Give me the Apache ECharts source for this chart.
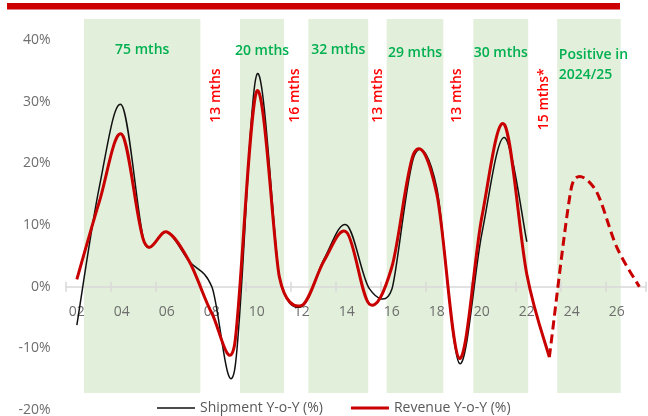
<!DOCTYPE html>
<html>
<head>
<meta charset="utf-8">
<script src="https://cdn.jsdelivr.net/npm/echarts@6/dist/echarts.min.js"></script>
<style>
  html, body { margin: 0; padding: 0; background: #ffffff; }
  #chart { width: 648px; height: 416px; }
</style>
</head>
<body>
<div id="chart"></div>
<script>
// Annual year-on-year growth (%), each value plotted at mid-year
const shipmentYears = [2002, 2003, 2004, 2005, 2006, 2007, 2008, 2009, 2010, 2011, 2012,
                       2013, 2014, 2015, 2016, 2017, 2018, 2019, 2020, 2021, 2022];
const shipmentYoY   = [-6.2, 16.2, 29.4, 7.2, 8.9, 4.1, 0.0, -13.7, 34.4, 1.6, -3.2,
                       4.6, 10.0, -0.3, -0.4, 21.3, 16.0, -12.4, 8.6, 24.2, 7.3];

const revenueYears  = [2002, 2003, 2004, 2005, 2006, 2007, 2008, 2009, 2010, 2011, 2012,
                       2013, 2014, 2015, 2016, 2017, 2018, 2019, 2020, 2021, 2022, 2023];
const revenueYoY    = [1.2, 13.8, 24.7, 7.2, 8.9, 4.1, -4.3, -9.6, 31.7, 1.6, -3.0,
                       4.3, 8.8, -2.8, 3.2, 21.8, 15.0, -11.6, 11.3, 26.3, 2.0, -11.4];

const forecastYears = [2023, 2024, 2025, 2026, 2027];
const forecastYoY   = [-11.4, 16.4, 16.0, 6.4, 0.0];

// Up-cycle periods (shaded) in fractional years, with their durations
const upStart = [2002.82, 2009.75, 2012.79, 2016.27, 2020.12, 2023.85];
const upEnd   = [2007.99, 2011.71, 2015.45, 2018.79, 2022.56, 2026.67];
const upText  = ['75 mths', '20 mths', '32 mths', '29 mths', '30 mths', 'Positive in\n2024/25'];

// Down-cycle durations, placed in the gaps between up-cycles
const downAt   = [2008.68, 2012.20, 2015.88, 2019.39, 2023.26];
const downText = ['13 mths', '16 mths', '13 mths', '13 mths', '15 mths*'];

// Axis ticks and labels
const yTicks      = [-20, -10, 0, 10, 20, 30, 40];
const xTickYears  = [2002, 2004, 2006, 2008, 2010, 2012, 2014, 2016, 2018, 2020, 2022, 2024, 2026];
const xTickLabels = ['02', '04', '06', '08', '10', '12', '14', '16', '18', '20', '22', '24', '26'];

const midYear = (years, vals) => years.map((y, i) => [y + 0.5, vals[i]]);

const FONT = '"Open Sans", "Noto Sans", sans-serif';
const AXIS_GREY = '#d9d9d9';
const TEXT_GREY = '#6e6e6e';
const GREEN_TXT = '#00b050';
const RED_TXT = '#ff0000';
const RED_LINE = '#c80000';

const X_MIN = 2002, X_MAX = 2027.8;
const Y_MIN = -20, bandTop = 43.4, bandBottom = -17.2;

const GRID = { left: 65.6, top: 19, width: 580.5, height: 391.2 };
// lift the year axis from the grid bottom up to the 0% level
const zeroOffset = -GRID.height * (0 - Y_MIN) / (bandTop - Y_MIN);

// Smoothed curve through pixel points: cardinal spline (1/6 arms),
// with each arm capped relative to its neighbouring segments
function smoothPathData(pts) {
  const n = pts.length;
  const dist = (a, b) => Math.hypot(b[0] - a[0], b[1] - a[1]);
  const arms = pts.map((p, i) => {
    const a = pts[Math.max(0, i - 1)], b = pts[Math.min(n - 1, i + 1)];
    let tx = (b[0] - a[0]) / 6, ty = (b[1] - a[1]) / 6;
    const dPrev = i > 0 ? dist(p, pts[i - 1]) : Infinity;
    const dNext = i < n - 1 ? dist(p, pts[i + 1]) : Infinity;
    const lim = Math.min(dPrev, dNext) * 0.75;
    const len = Math.hypot(tx, ty);
    if (len > lim && len > 0) { tx *= lim / len; ty *= lim / len; }
    return [tx, ty];
  });
  let d = 'M' + pts[0][0] + ',' + pts[0][1];
  for (let i = 0; i < n - 1; i++) {
    const p = pts[i], q = pts[i + 1];
    d += 'C' + (p[0] + arms[i][0]) + ',' + (p[1] + arms[i][1]) + ' ' +
         (q[0] - arms[i + 1][0]) + ',' + (q[1] - arms[i + 1][1]) + ' ' + q[0] + ',' + q[1];
  }
  return d;
}

function curveSeries(name, data, color, width, dash, z) {
  return {
    name: name,
    type: 'custom',
    data: data,
    encode: { x: 0, y: 1 },
    z: z,
    silent: true,
    itemStyle: { color: color },
    renderItem: function (params, api) {
      if (params.dataIndex !== 0) return null;
      const pts = data.map(d => api.coord(d));
      return {
        type: 'path',
        shape: { pathData: smoothPathData(pts) },
        style: { stroke: color, lineWidth: width, fill: 'none', lineDash: dash, lineCap: 'butt', lineJoin: 'round' }
      };
    }
  };
}

const labelPoints = [];
upText.forEach((t, i) => {
  const last = i === upText.length - 1;
  labelPoints.push({
    name: t,
    coord: last ? [upStart[i] + 0.07, 35.9] : [(upStart[i] + upEnd[i]) / 2, [38.3, 38.2, 38.4, 37.9, 37.9][i]],
    label: { color: GREEN_TXT, align: last ? 'left' : 'center', lineHeight: 20 }
  });
});
downText.forEach((t, i) => {
  labelPoints.push({
    name: t,
    coord: [downAt[i], i === 4 ? 30.4 : 31.0],
    label: { color: RED_TXT, rotate: 90, align: 'center' }
  });
});

const tickAxis = inside => ({
  type: 'value', min: X_MIN, max: X_MAX, interval: 2,
  position: 'bottom', offset: zeroOffset, z: 2,
  axisLine: { show: false, onZero: false },
  axisTick: { show: true, inside: inside, length: 5, lineStyle: { color: AXIS_GREY, width: 1.5 } },
  axisLabel: { show: false },
  splitLine: { show: false }
});

const chart = echarts.init(document.getElementById('chart'), null, { renderer: 'canvas' });

chart.setOption({
  animation: false,
  backgroundColor: '#ffffff',
  textStyle: { fontFamily: FONT },
  grid: Object.assign({ containLabel: false, outerBoundsMode: 'none' }, GRID),
  legend: {
    data: [
      { name: 'Shipment Y-o-Y (%)', icon: 'path://M0,0M38,14M0,6.25H38V7.75H0Z' },
      { name: 'Revenue Y-o-Y (%)', icon: 'path://M0,0M38,14M0,5.5H38V8.5H0Z' }
    ],
    left: 152, top: 396,
    itemWidth: 38, itemHeight: 14, itemGap: 28,
    textStyle: { fontFamily: FONT, fontSize: 14, color: '#595959' }
  },
  xAxis: [
    {
      type: 'value', min: X_MIN, max: X_MAX, interval: 0.5,
      position: 'bottom', offset: zeroOffset, z: 2,
      axisLine: { onZero: false, lineStyle: { color: AXIS_GREY, width: 1.5 } },
      axisTick: { show: false },
      axisLabel: {
        formatter: v => {
          const i = xTickYears.indexOf(v - 0.5);
          return i >= 0 ? xTickLabels[i] : '';
        },
        showMaxLabel: false,
        margin: 18, color: TEXT_GREY, fontSize: 14, fontFamily: FONT
      },
      splitLine: { show: false }
    },
    tickAxis(false),
    tickAxis(true)
  ],
  yAxis: {
    type: 'value', min: Y_MIN, max: bandTop,
    axisLine: { show: false },
    axisTick: { show: false },
    splitLine: { show: false },
    axisLabel: {
      customValues: yTicks,
      formatter: '{value}%',
      margin: 15, color: TEXT_GREY, fontSize: 14, fontFamily: FONT
    }
  },
  graphic: [
    { type: 'rect', shape: { x: 7, y: 3, width: 613, height: 6.5 }, style: { fill: '#cc0000' }, z: 100 }
  ],
  series: [
    {
      name: 'cycles',
      type: 'line',
      data: [],
      z: 1,
      silent: true,
      markArea: {
        silent: true,
        itemStyle: { color: '#e2efda' },
        label: { show: false },
        data: upStart.map((s, i) => [{ xAxis: s, yAxis: bandTop }, { xAxis: upEnd[i], yAxis: bandBottom }])
      },
      markPoint: {
        symbol: 'circle', symbolSize: 1,
        itemStyle: { color: 'rgba(0,0,0,0)' },
        silent: true,
        label: {
          show: true, position: 'inside', formatter: '{b}',
          fontFamily: FONT, fontSize: 14, fontWeight: 600
        },
        data: labelPoints
      }
    },
    curveSeries('Shipment Y-o-Y (%)', midYear(shipmentYears, shipmentYoY), '#111111', 1.5, null, 3),
    curveSeries('Revenue Y-o-Y (%)', midYear(revenueYears, revenueYoY), RED_LINE, 3, null, 4),
    curveSeries('Revenue forecast', midYear(forecastYears, forecastYoY), RED_LINE, 3, [9, 5], 4)
  ]
});
</script>
</body>
</html>
